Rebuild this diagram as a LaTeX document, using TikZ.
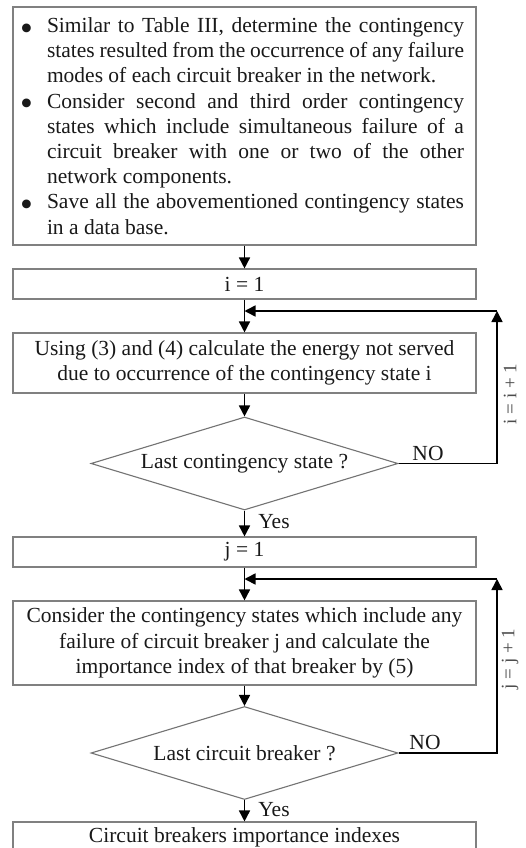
\documentclass[tikz,border=0pt]{standalone}
\usepackage{fontspec}
\usepackage{graphicx}
\setmainfont{Liberation Serif}
\usetikzlibrary{shapes.geometric,arrows.meta}

\newcommand{\bulletmark}{\noindent\llap{\raisebox{-7.5pt}{\scalebox{1.7}{\textbullet}}\hskip 14pt}}

\begin{document}
\begin{tikzpicture}[x=1pt,y=-1pt,
  font=\fontsize{21.5}{25.2}\selectfont,
  procbox/.style={draw=black!50,line width=1.1pt,rectangle,inner sep=0pt,
    minimum width=463pt,align=center,text=black!90},
  decision/.style={draw=black!55,line width=1.1pt,diamond,aspect=3.3,inner sep=0pt,
    minimum width=307pt,minimum height=93pt,text=black!90},
  flow/.style={line width=1.6pt,-{Triangle[length=11pt,width=11pt]}},
  steplabel/.style={text=black!70,font=\fontsize{19}{22}\selectfont},
  answer/.style={text=black!90}]
\clip (0,0) rectangle (525,848);
\fill[white] (0,0) rectangle (525,848);

% preparation of the contingency states
\node[procbox,minimum height=238pt,text width=463pt,align=justify] (prep) at (244.5,126) {%
  \leftskip=34pt \rightskip=12pt \parindent=0pt \baselineskip=25.2pt
  \hyphenpenalty=10000 \exhyphenpenalty=10000
  \bulletmark Similar to Table III, determine the contingency\linebreak states resulted from the occurrence of any failure\linebreak modes of each circuit breaker in the network.\par
  \bulletmark Consider second and third order contingency\linebreak states which include simultaneous failure of a\linebreak circuit breaker with one or two of the other\linebreak network components.\par
  \bulletmark Save all the abovementioned contingency states\linebreak in a data base.\par};

% first loop: energy not served
\node[procbox,minimum height=30pt] (iinit) at (244.5,284) {i = 1};
\node[procbox,minimum height=60pt] (ens) at (244.5,363)
  {Using (3) and (4) calculate the energy not served\\due to occurrence of the contingency state i};
\node[decision] (lastcs) at (244.5,463.5) {Last contingency state ?};

% second loop: importance index
\node[procbox,minimum height=30pt] (jinit) at (244.5,552) {j = 1};
\node[procbox,minimum height=84pt] (imp) at (244.5,643)
  {Consider the contingency states which include any\\failure of circuit breaker j and calculate the\\importance index of that breaker by (5)};
\node[decision] (lastcb) at (244.5,753) {Last circuit breaker ?};

\node[procbox,minimum height=30pt] (result) at (244.5,837) {Circuit breakers importance indexes};

% loop corners and junctions
\coordinate (ijoin) at (244.5,311);
\coordinate (icorner) at (497,311);
\coordinate (jjoin) at (244.5,579);
\coordinate (jcorner) at (497,579);

% main flow
\draw[flow] (prep.south) -- (iinit.north);
\draw[flow] (iinit.south) -- (ens.north);
\draw[flow] (ens.south) -- (lastcs.north);
\draw[flow] (lastcs.south) -- (jinit.north);
\draw[flow] (jinit.south) -- (imp.north);
\draw[flow] (imp.south) -- (lastcb.north);
\draw[flow] (lastcb.south) -- (result.north);

% feedback of the first loop
\draw[flow] (lastcs.east) -| (icorner);
\draw[flow] (icorner) -- (ijoin);
% feedback of the second loop
\draw[flow] (lastcb.east) -| (jcorner);
\draw[flow] (jcorner) -- (jjoin);

% branch labels
\node[answer] (no1) at (428,453) {NO};
\node[answer] (yes1) at (274,522) {Yes};
\node[answer] (no2) at (425,742) {NO};
\node[answer] (yes2) at (274,810) {Yes};
\node[steplabel,rotate=90] (inc1) at (510,394) {i = i + 1};
\node[steplabel,rotate=90] (inc2) at (510,659) {j = j + 1};
\end{tikzpicture}
\end{document}
